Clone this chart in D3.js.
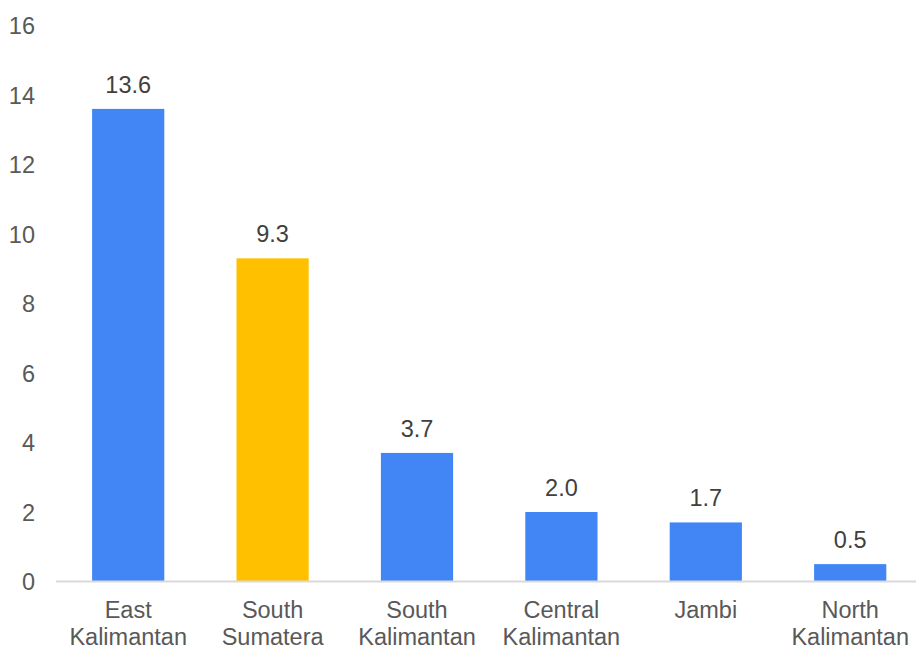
<!DOCTYPE html>
<html>
<head>
<script src="https://d3js.org/d3.v7.min.js"></script>
<style>
  body { margin: 0; background: #fff; }
  svg { font-family: "Liberation Sans", Arial, sans-serif; }
  .tick text { fill: #595959; font-size: 23.5px; }
</style>
</head>
<body>
<svg id="chart" width="916" height="649"></svg>
<script>
// data
var regions = [["East", "Kalimantan"], ["South", "Sumatera"], ["South", "Kalimantan"],
               ["Central", "Kalimantan"], ["Jambi"], ["North", "Kalimantan"]];
var values = [13.6, 9.3, 3.7, 2.0, 1.7, 0.5];
var barColors = ["#4285F4", "#FFC000", "#4285F4", "#4285F4", "#4285F4", "#4285F4"];
var yTicks = [0, 2, 4, 6, 8, 10, 12, 14, 16];

var svg = d3.select("#chart");
var keys = regions.map(function(d) { return d.join(" "); });

var x = d3.scaleBand()
    .domain(keys)
    .range([56, 922.4])
    .paddingInner(0.5)
    .paddingOuter(0.25);

var y = d3.scaleLinear()
    .domain([0, 16])
    .range([581.5, 25.5]);

// y labels, no axis line
var yAxis = svg.append("g")
    .attr("transform", "translate(35,0)")
    .call(d3.axisLeft(y).tickValues(yTicks).tickSize(0).tickPadding(0));
yAxis.select(".domain").remove();
yAxis.selectAll("text").attr("text-anchor", "end").attr("dy", "0.35em");

// bars
svg.selectAll("rect.bar")
    .data(values)
    .enter().append("rect")
    .attr("class", "bar")
    .attr("x", function(d, i) { return x(keys[i]); })
    .attr("width", x.bandwidth())
    .attr("y", function(d) { return y(d); })
    .attr("height", function(d) { return y(0) - y(d); })
    .attr("fill", function(d, i) { return barColors[i]; });

// baseline
svg.append("line")
    .attr("x1", 56).attr("x2", 916)
    .attr("y1", y(0)).attr("y2", y(0))
    .attr("stroke", "#d9d9d9")
    .attr("stroke-width", 2);

// value labels
svg.selectAll("text.val")
    .data(values)
    .enter().append("text")
    .attr("class", "val")
    .attr("x", function(d, i) { return x(keys[i]) + x.bandwidth() / 2; })
    .attr("y", function(d) { return y(d) - 16; })
    .attr("text-anchor", "middle")
    .attr("fill", "#404040")
    .style("font-size", "23.5px")
    .text(function(d) { return d.toFixed(1); });

// category labels (two lines)
var cat = svg.selectAll("text.cat")
    .data(regions)
    .enter().append("text")
    .attr("class", "cat")
    .attr("x", function(d, i) { return x(keys[i]) + x.bandwidth() / 2; })
    .attr("y", 618)
    .attr("text-anchor", "middle")
    .attr("fill", "#595959")
    .style("font-size", "23.5px");
cat.each(function(d) {
    var t = d3.select(this);
    d.forEach(function(line, k) {
        t.append("tspan")
            .attr("x", t.attr("x"))
            .attr("dy", k === 0 ? 0 : 27)
            .text(line);
    });
});
</script>
</body>
</html>
